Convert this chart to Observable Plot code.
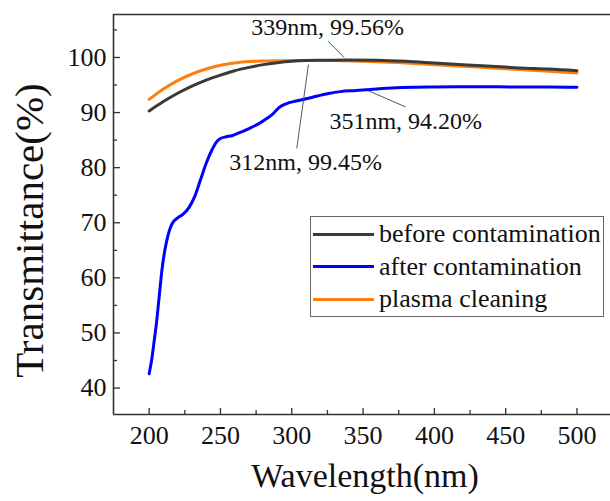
<!DOCTYPE html>
<html>
<head>
<meta charset="utf-8">
<script src="https://cdn.jsdelivr.net/npm/d3@7"></script>
<script src="https://cdn.jsdelivr.net/npm/@observablehq/plot@0.6"></script>
<style>
  html, body { margin: 0; padding: 0; background: #fff; }
  #wrap { position: relative; width: 610px; height: 501px; overflow: hidden; font-family: "Liberation Serif", "Times New Roman", serif; }
  #wrap svg, #wrap svg text { font-family: "Liberation Serif", "Times New Roman", serif !important; }
  #legend { position: absolute; left: 310px; top: 216px; width: 294px; height: 101px; border: 1px solid #666; background: #fff; box-sizing: border-box; padding-top: 1px; }
  .row { display: flex; align-items: center; height: 32.5px; }
  .swatch { width: 61px; height: 3px; margin-left: 2px; margin-right: 5px; }
  .lab { font-size: 26px; color: #111; line-height: 1; white-space: nowrap; }
</style>
</head>
<body>
<div id="wrap"></div>
<script>
// ---- data ----
const seriesNames = ["before contamination", "after contamination", "plasma cleaning"];
const seriesColors = ["#3a3a3a", "#0000ff", "#ff7f0e"];

const beforeX = [200, 210, 220, 230, 240, 250, 260, 270, 280, 290, 300, 310, 320, 339, 360, 380, 400, 420, 440, 460, 480, 500];
const beforeY = [90.3, 92.0, 93.5, 94.8, 95.9, 96.8, 97.6, 98.2, 98.7, 99.05, 99.3, 99.45, 99.5, 99.56, 99.5, 99.3, 99.0, 98.7, 98.4, 98.1, 97.9, 97.6];

const afterX = [200, 202, 203.5, 205, 207, 209, 211, 213, 215, 217, 220, 224, 228, 232, 236, 240, 244, 247, 250, 254, 258, 263, 270, 277, 283, 287, 291, 296, 303, 310, 318, 325, 334, 345, 355, 370, 385, 400, 430, 460, 480, 500];
const afterY = [42.6, 45.5, 48.5, 51.5, 56.5, 61.5, 65.0, 67.5, 69.2, 70.2, 70.9, 71.6, 72.8, 74.8, 77.8, 80.8, 83.2, 84.6, 85.3, 85.6, 85.8, 86.3, 87.1, 88.0, 89.0, 89.8, 90.9, 91.6, 92.1, 92.5, 93.0, 93.4, 93.8, 94.0, 94.2, 94.45, 94.6, 94.65, 94.7, 94.65, 94.65, 94.6];

const plasmaX = [200, 210, 220, 230, 240, 250, 260, 270, 280, 290, 300, 312, 330, 350, 380, 400, 420, 440, 460, 480, 500];
const plasmaY = [92.4, 94.3, 95.8, 97.0, 97.9, 98.6, 99.0, 99.25, 99.35, 99.4, 99.43, 99.45, 99.45, 99.3, 99.0, 98.7, 98.4, 98.1, 97.8, 97.5, 97.2];

// annotations (data coordinates)
const annLabels = ["339nm, 99.56%", "312nm, 99.45%", "351nm, 94.20%"];
const annTextX = [325.2, 309.7, 379.9];
const annTextY = [105.4, 80.9, 88.5];
const annFromX = [336.7, 311.7, 353.8];
const annFromY = [100.0, 98.7, 93.95];
const annToX = [325.3, 303.5, 379.6];
const annToY = [103.0, 83.5, 91.05];

const xMajor = [200, 250, 300, 350, 400, 450, 500];
const xMinor = [225, 275, 325, 375, 425, 475];
const yMajor = [40, 50, 60, 70, 80, 90, 100];
const yMinor = [45, 55, 65, 75, 85, 95, 105];
const xDomain = [175, 523.5];
const yDomain = [35.2, 107.8];

// ---- build ----
const serif = "'Liberation Serif', 'Times New Roman', serif";
const toRows = (xs, ys, s) => xs.map((x, i) => ({x, y: ys[i], s}));
const lines = [
  toRows(afterX, afterY, 1),
  toRows(plasmaX, plasmaY, 2),
  toRows(beforeX, beforeY, 0)
];
const ann = annLabels.map((t, i) => ({t, tx: annTextX[i], ty: annTextY[i], x1: annFromX[i], y1: annFromY[i], x2: annToX[i], y2: annToY[i]}));

const axisColor = "#333";
const chart = Plot.plot({
  width: 610,
  height: 501,
  marginLeft: 113,
  marginRight: 0,
  marginTop: 14,
  marginBottom: 87,
  style: {fontFamily: serif, fontSize: "26px", color: "#111", background: "#fff"},
  x: {domain: xDomain},
  y: {domain: yDomain},
  marks: [
    // inward minor ticks
    Plot.axisX({ticks: xMinor, tickSize: -4, tickFormat: () => "", label: null, stroke: axisColor, strokeWidth: 1.3, strokeOpacity: 1}),
    Plot.axisY({ticks: yMinor, tickSize: -4, tickFormat: () => "", label: null, stroke: axisColor, strokeWidth: 1.3, strokeOpacity: 1}),
    // inward major ticks + labels
    Plot.axisX({ticks: xMajor, tickSize: -6, tickPadding: 17, label: null, stroke: axisColor, strokeWidth: 1.3, strokeOpacity: 1, fontSize: 26, fontFamily: serif, fill: "#111"}),
    Plot.axisY({ticks: yMajor, tickSize: -7, tickPadding: 14, label: null, stroke: axisColor, strokeWidth: 1.3, strokeOpacity: 1, fontSize: 26, fontFamily: serif, fill: "#111"}),
    // frame lines (left, bottom, top)
    Plot.ruleX([xDomain[0]], {stroke: axisColor, strokeWidth: 1.6}),
    Plot.ruleY([yDomain[0]], {stroke: axisColor, strokeWidth: 1.6}),
    Plot.ruleY([yDomain[1]], {stroke: axisColor, strokeWidth: 1.6}),
    // curves
    ...lines.map(rows => Plot.line(rows, {x: "x", y: "y", stroke: seriesColors[rows[0].s], strokeWidth: 3, curve: "monotone-x"})),
    // annotation leaders and labels
    Plot.link(ann, {x1: "x1", y1: "y1", x2: "x2", y2: "y2", stroke: "#444", strokeWidth: 0.9}),
    Plot.text(ann, {x: "tx", y: "ty", text: "t", fontSize: 24, fontFamily: serif, fill: "#111", textAnchor: "middle", lineAnchor: "middle"}),
    // axis titles
    Plot.text(["Wavelength(nm)"], {frameAnchor: "bottom", text: d => d, dy: 62, dx: 3, fontSize: 34, fontFamily: serif, fill: "#111", textAnchor: "middle", lineAnchor: "middle"}),
    Plot.text(["Transmittance(%)"], {frameAnchor: "left", text: d => d, dx: -84, dy: 16, rotate: -90, fontSize: 41, fontFamily: serif, fill: "#111", textAnchor: "middle", lineAnchor: "middle"})
  ]
});

const wrap = document.getElementById("wrap");
wrap.appendChild(chart);

// legend
const legend = document.createElement("div");
legend.id = "legend";
seriesNames.forEach((name, i) => {
  const row = document.createElement("div");
  row.className = "row";
  const sw = document.createElement("div");
  sw.className = "swatch";
  sw.style.background = seriesColors[i];
  const lab = document.createElement("span");
  lab.className = "lab";
  lab.textContent = name;
  row.appendChild(sw);
  row.appendChild(lab);
  legend.appendChild(row);
});
wrap.appendChild(legend);
</script>
</body>
</html>
